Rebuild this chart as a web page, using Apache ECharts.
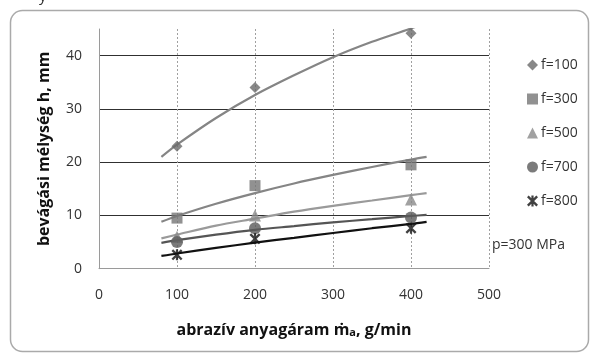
<!DOCTYPE html>
<html>
<head>
<meta charset="utf-8">
<script src="https://cdn.jsdelivr.net/npm/echarts@6/dist/echarts.min.js"></script>
<style>
html,body{margin:0;padding:0;background:#fff;}
#c{width:591px;height:358px;}
</style>
</head>
<body>
<div id="c"></div>
<script>
// measured points
const xPts = [100, 200, 400];
const f100 = [23, 34, 44.2];
const f300 = [9.5, 15.6, 19.5];
const f500 = [6, 10, 13];
const f700 = [5, 7.6, 9.6];
const f800 = [2.6, 5.6, 7.6];
// trendline curves
const trendX = [80, 100, 150, 200, 250, 300, 350, 400, 420];
const trend100 = [21, 23.3, 28.3, 32.6, 36.3, 39.7, 42.6, 45.1, 46.2];
const trend300 = [8.8, 9.9, 12.2, 14.2, 16.0, 17.6, 19.1, 20.5, 21.0];
const trend500 = [5.7, 6.4, 8.1, 9.4, 10.7, 11.8, 12.8, 13.8, 14.2];
const trend700 = [4.85, 5.35, 6.4, 7.3, 8.0, 8.7, 9.3, 9.9, 10.1];
const trend800 = [2.4, 2.86, 3.9, 4.9, 5.8, 6.7, 7.6, 8.4, 8.8];
const seriesNames = ['f=100', 'f=300', 'f=500', 'f=700', 'f=800'];
const xTicks = [0, 100, 200, 300, 400, 500];
const yTicks = [0, 10, 20, 30, 40];

const FONT = 'Open Sans';
const starPath = 'path://M4,0L6,0L6,10L4,10Z M0,1.5L1.5,0L10,8.5L8.5,10Z M8.5,0L10,1.5L1.5,10L0,8.5Z';

const pts = [f100, f300, f500, f700, f800];
const trends = [trend100, trend300, trend500, trend700, trend800];
const markerColors = ['#6a6a6a', '#767676', '#8a8a8a', '#5a5a5a', '#111111'];
const lineColors = ['#858585', '#858585', '#9a9a9a', '#555555', '#111111'];
const symbols = ['diamond', 'rect', 'triangle', 'circle', starPath];
const symSizes = [11, 11, 12, 12, 11];

const series = [];
trends.forEach((t, i) => {
  series.push({
    type: 'line', name: seriesNames[i] + ' trend',
    data: trendX.map((x, k) => [x, t[k]]),
    showSymbol: false, smooth: 0.3, clip: true,
    lineStyle: { color: lineColors[i], width: 2.2 },
    silent: true, z: 2
  });
});
pts.forEach((p, i) => {
  series.push({
    type: 'scatter', name: seriesNames[i],
    data: xPts.map((x, k) => [x, p[k]]),
    symbol: symbols[i], symbolSize: symSizes[i],
    itemStyle: { color: markerColors[i] },
    z: 3
  });
});

const chart = echarts.init(document.getElementById('c'), null, { renderer: 'canvas' });
chart.setOption({
  backgroundColor: '#ffffff',
  animation: false,
  textStyle: { fontFamily: FONT },
  graphic: [
    { type: 'rect', shape: { x: 10.5, y: 10.5, width: 578, height: 341, r: 12 },
      style: { fill: '#fff', stroke: '#aaaaaa', lineWidth: 1.5 }, z: -10 },
    { type: 'text', left: 39, top: -11, style: { text: 'y', font: '15px "Open Sans"', fill: '#333' } },
    { type: 'text', left: 492, top: 238, style: { text: 'p=300 MPa', font: '14px "Open Sans"', fill: '#333' } }
  ],
  grid: { left: 99, right: 102, top: 29, bottom: 89.3 },
  legend: {
    orient: 'vertical', left: 522, top: 53,
    itemGap: 20, itemWidth: 11, itemHeight: 11,
    data: seriesNames,
    textStyle: { fontSize: 14, color: '#333', fontFamily: FONT, padding: [0, 0, 0, -2] }
  },
  xAxis: {
    type: 'value', min: 0, max: 500, interval: 100,
    name: 'abrazív anyagáram {b|ṁ}{s|a}{b|, g/min}',
    nameLocation: 'middle', nameGap: 53,
    nameTextStyle: {
      fontSize: 16, fontWeight: 'bold', color: '#111', fontFamily: FONT,
      rich: { b: { fontSize: 16, fontWeight: 'bold', color: '#111', fontFamily: FONT },
              s: { fontSize: 11, fontWeight: 'bold', color: '#111', fontFamily: FONT, verticalAlign: 'bottom', padding: [6, 0, 0, 0] } }
    },
    axisLine: { show: true, onZero: false, lineStyle: { color: '#9a9a9a', width: 1 } },
    axisTick: { show: false },
    axisLabel: { fontSize: 14, color: '#333', margin: 19, fontFamily: FONT },
    splitLine: { show: true, showMinLine: false, lineStyle: { color: '#a0a0a0', type: [2, 2], width: 1 } }
  },
  yAxis: {
    type: 'value', min: 0, max: 45, interval: 10,
    name: 'bevágási mélység h, mm',
    nameLocation: 'middle', nameGap: 47, nameRotate: 90,
    nameTextStyle: { fontSize: 16, fontWeight: 'bold', color: '#111', fontFamily: FONT },
    axisLine: { show: true, lineStyle: { color: '#9a9a9a', width: 1 } },
    axisTick: { show: false },
    axisLabel: { fontSize: 14, color: '#333', margin: 17, showMaxLabel: false, fontFamily: FONT },
    splitLine: { show: true, showMinLine: false, showMaxLine: false, lineStyle: { color: '#303030', width: 1.2 } }
  },
  series: series
});
</script>
</body>
</html>
